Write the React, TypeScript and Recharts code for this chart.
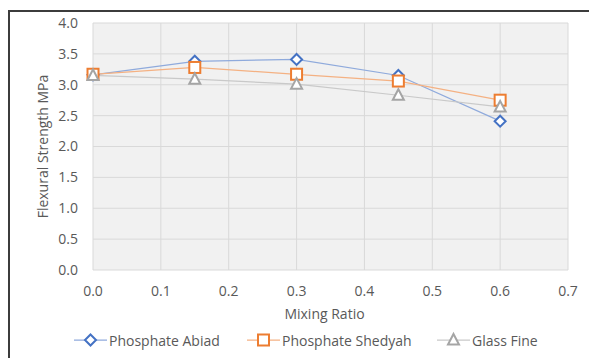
import React from "react"
import { LineChart, Line, XAxis, YAxis, CartesianGrid } from "recharts"

const mixRatio = [0, 0.15, 0.3, 0.45, 0.6]
const abiad = [3.16, 3.38, 3.41, 3.15, 2.41]
const shedyah = [3.17, 3.28, 3.17, 3.06, 2.75]
const glassFine = [3.15, 3.09, 3.01, 2.83, 2.64]

const xTicks = [0, 0.1, 0.2, 0.3, 0.4, 0.5, 0.6, 0.7]
const yTicks = [0, 0.5, 1, 1.5, 2, 2.5, 3, 3.5, 4]

const BLUE = "#4472C4"
const ORANGE = "#ED7D31"
const GRAY = "#A5A5A5"
const FONT = "'Open Sans', sans-serif"
const TEXT = "#595959"

const data = mixRatio.map((x, i) => ({
  x,
  abiad: abiad[i],
  shedyah: shedyah[i],
  glass: glassFine[i],
}))

type Shape = "diamond" | "square" | "triangle"

function Marker({ cx, cy, shape }: { cx: number; cy: number; shape: Shape }) {
  if (shape === "diamond") {
    return (
      <path
        d={`M${cx},${cy - 5.5}L${cx + 5.5},${cy}L${cx},${cy + 5.5}L${cx - 5.5},${cy}Z`}
        fill="#fff"
        stroke={BLUE}
        strokeWidth={2}
      />
    )
  }
  if (shape === "square") {
    return <rect x={cx - 5.5} y={cy - 5.5} width={11} height={11} fill="#fff" stroke={ORANGE} strokeWidth={2} />
  }
  return (
    <path
      d={`M${cx},${cy - 6}L${cx + 5.5},${cy + 4.5}L${cx - 5.5},${cy + 4.5}Z`}
      fill="#fff"
      stroke={GRAY}
      strokeWidth={2}
    />
  )
}

const dotFor = (shape: Shape) => (props: any) => (
  <Marker key={`${shape}-${props.index}`} cx={props.cx} cy={props.cy} shape={shape} />
)

const legendItems: { name: string; shape: Shape; color: string; line: string; left: number }[] = [
  { name: "Phosphate Abiad", shape: "diamond", color: BLUE, line: "#8FAADC", left: 74 },
  { name: "Phosphate Shedyah", shape: "square", color: ORANGE, line: "#F4B183", left: 247 },
  { name: "Glass Fine", shape: "triangle", color: GRAY, line: "#C9C9C9", left: 437 },
]

const XLabel = ({ viewBox }: any) => (
  <text x={viewBox.x + viewBox.width / 2 - 6} y={viewBox.y + 49} textAnchor="middle" fill={TEXT} fontSize={14} fontFamily={FONT}>
    Mixing Ratio
  </text>
)

const YLabel = ({ viewBox }: any) => {
  const cx = 48
  const cy = viewBox.y + viewBox.height / 2
  return (
    <text x={cx} y={cy} transform={`rotate(-90, ${cx}, ${cy})`} textAnchor="middle" fill={TEXT} fontSize={14} fontFamily={FONT}>
      Flexural Strength MPa
    </text>
  )
}

export default function App() {
  const tick = { fontSize: 14, fill: TEXT, fontFamily: FONT }
  return (
    <div style={{ position: "fixed", left: 0, top: 0, width: 589, height: 358, background: "#fff", overflow: "hidden" }}>
      <div
        style={{
          position: "absolute",
          left: 8,
          top: 10,
          right: -4,
          bottom: -4,
          borderTop: "2px solid #3c3c3c",
          borderLeft: "2px solid #3c3c3c",
        }}
      />
      <LineChart width={589} height={358} data={data} margin={{ top: 23, right: 21, bottom: 38, left: 33 }}>
        <CartesianGrid stroke="#d9d9d9" fill="#f1f1f1" />
        <XAxis
          dataKey="x"
          type="number"
          domain={[0, 0.7]}
          ticks={xTicks}
          tickFormatter={(v: number) => v.toFixed(1)}
          axisLine={false}
          tickLine={false}
          tickSize={0}
          tickMargin={16}
          height={50}
          tick={tick}
          label={<XLabel />}
        />
        <YAxis
          type="number"
          domain={[0, 4]}
          ticks={yTicks}
          tickFormatter={(v: number) => v.toFixed(1)}
          axisLine={false}
          tickLine={false}
          tickSize={0}
          tickMargin={15}
          width={60}
          tick={tick}
          label={<YLabel />}
        />
        <Line dataKey="abiad" stroke="#8FAADC" strokeWidth={1.25} dot={dotFor("diamond")} isAnimationActive={false} />
        <Line dataKey="shedyah" stroke="#F4B183" strokeWidth={1.25} dot={dotFor("square")} isAnimationActive={false} />
        <Line dataKey="glass" stroke="#C9C9C9" strokeWidth={1.25} dot={dotFor("triangle")} isAnimationActive={false} />
      </LineChart>
      {legendItems.map((item) => (
        <div
          key={item.name}
          style={{ position: "absolute", left: item.left, top: 330, height: 20, display: "flex", alignItems: "center" }}
        >
          <svg width={33} height={20} style={{ display: "block" }}>
            <line x1={0} y1={10} x2={33} y2={10} stroke={item.line} strokeWidth={1.25} />
            <Marker cx={16.5} cy={10} shape={item.shape} />
          </svg>
          <span style={{ marginLeft: 2, fontSize: 14, color: TEXT, fontFamily: FONT, whiteSpace: "nowrap" }}>{item.name}</span>
        </div>
      ))}
    </div>
  )
}
